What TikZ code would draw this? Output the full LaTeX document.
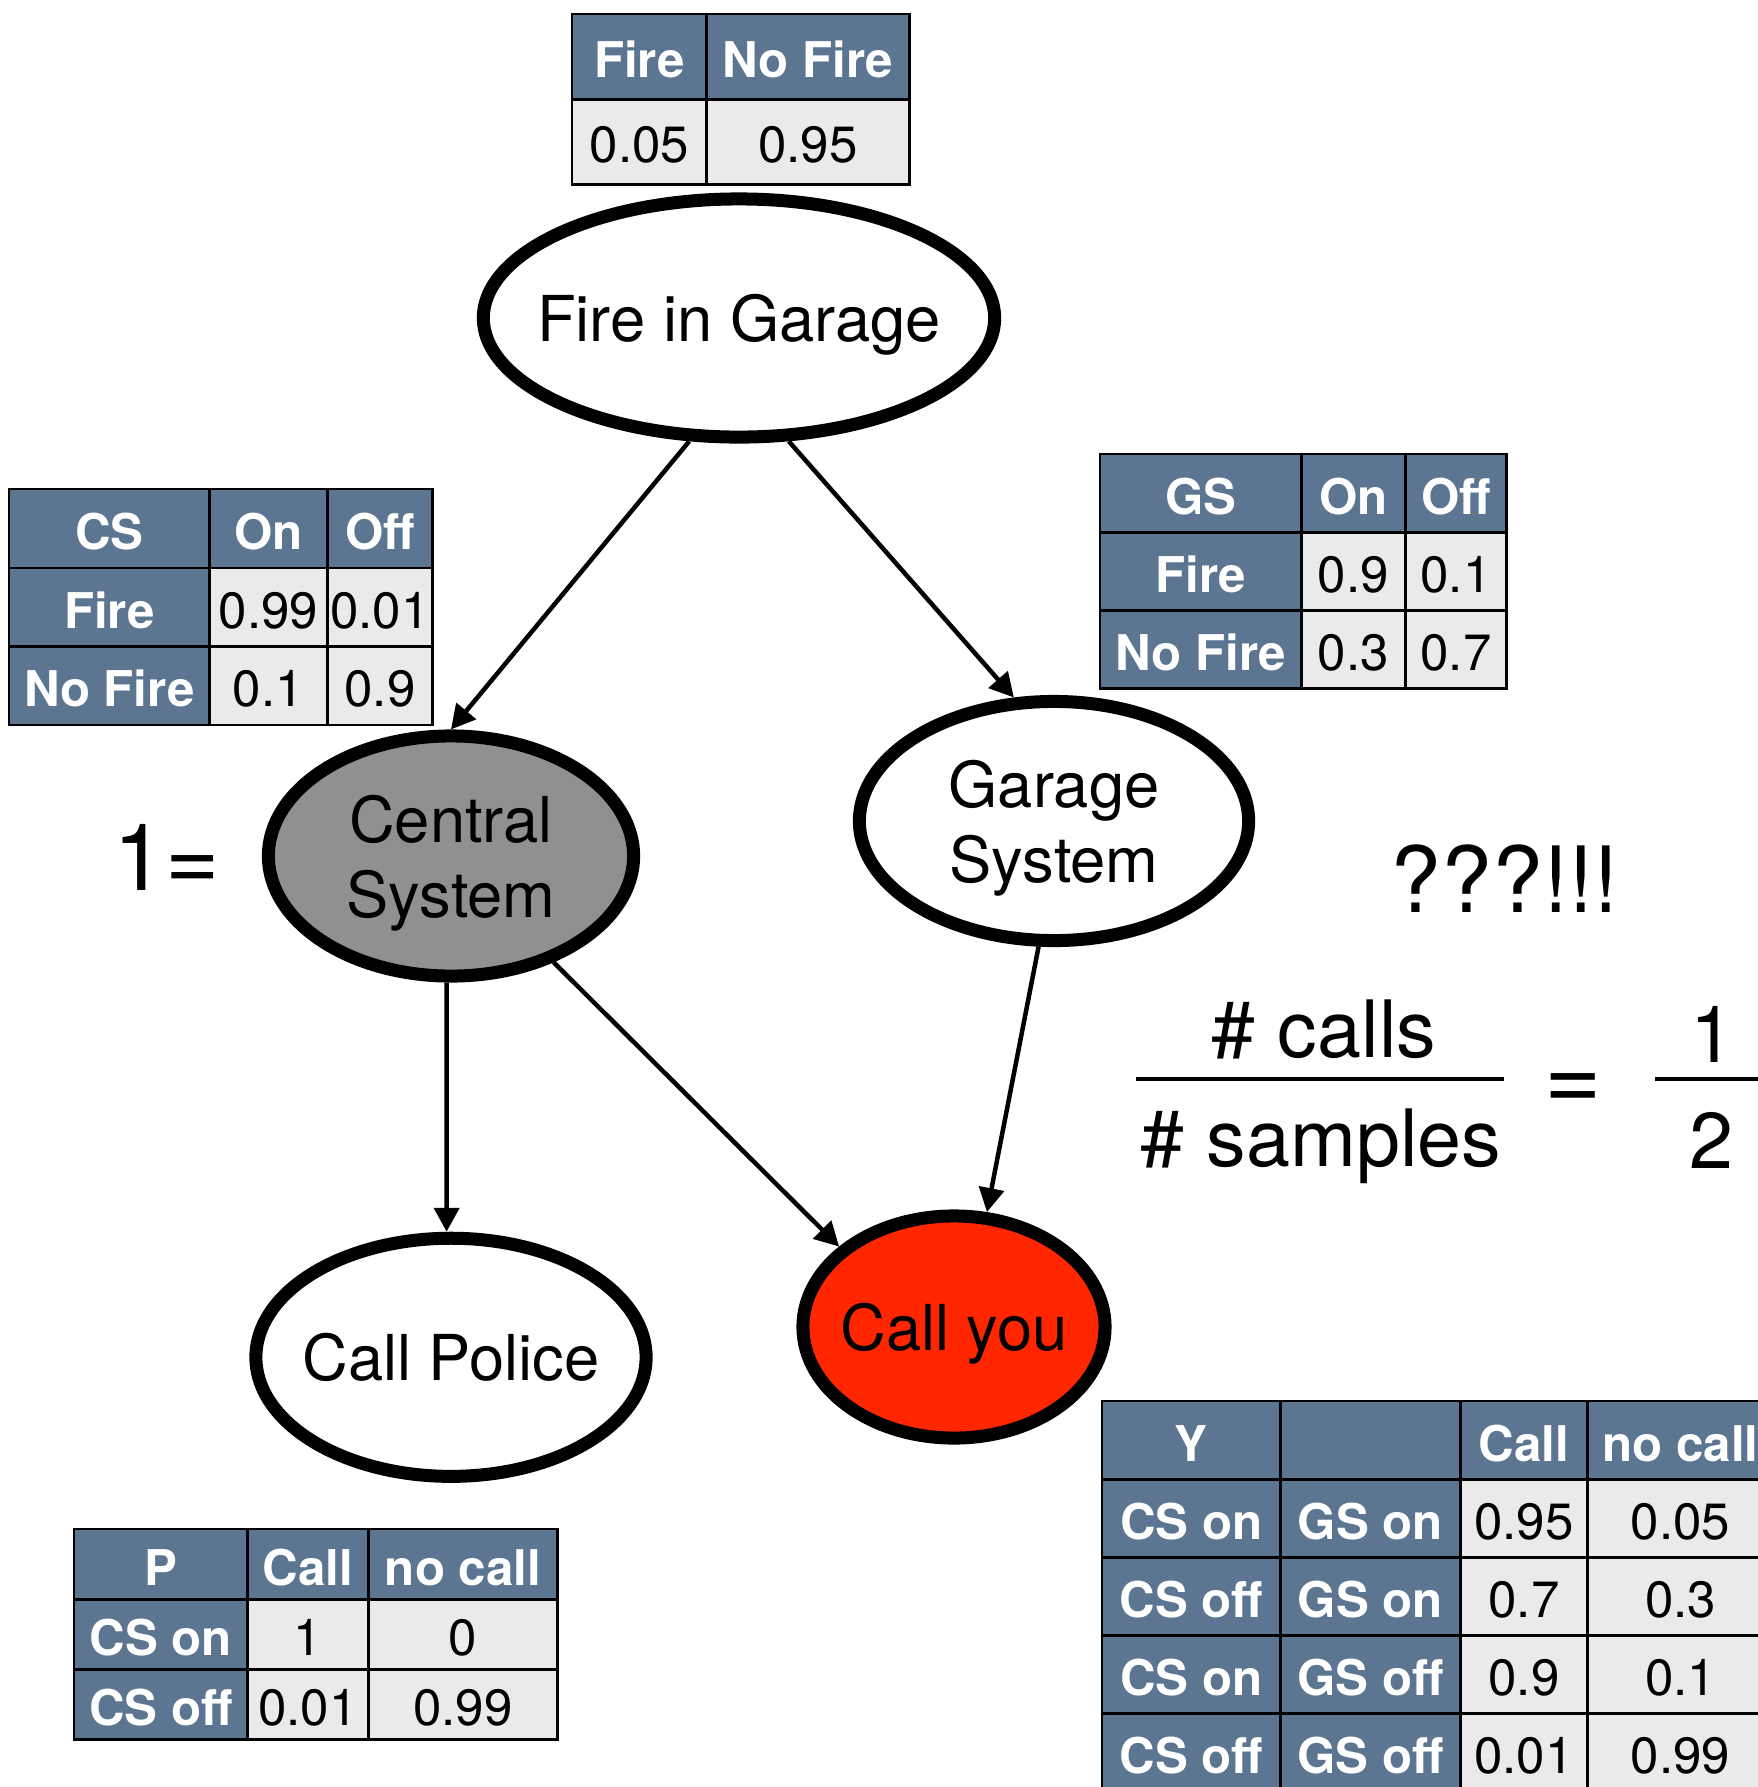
\documentclass[tikz,border=0pt]{standalone}
\usepackage{fontspec}
\setmainfont{TeX Gyre Heros}
\usepackage{tikz}
\usetikzlibrary{arrows.meta, positioning, shapes.geometric, matrix}
\definecolor{hdrblue}{RGB}{92,118,145}
\definecolor{cellgray}{RGB}{234,234,234}
\definecolor{csgray}{RGB}{144,144,144}
\definecolor{callred}{RGB}{255,38,0}

\begin{document}
\begin{tikzpicture}[x=0.01cm,y=-0.01cm,>={Triangle[length=0.24cm,width=0.25cm]}]
 \tikzstyle{bnode}=[ellipse,draw=black,line width=0.13cm,fill=white,inner sep=0pt]
 \tikzstyle{btext}=[font=\fontsize{18}{21.3}\selectfont,align=center,text depth=0pt]
 \tikzstyle{link}=[->,line width=0.045cm]
 \tikzstyle{hcell}=[fill=hdrblue,text=white,font=\bfseries\fontsize{14}{16}\selectfont]
 \tikzstyle{vcell}=[draw=black,line width=0.7pt,fill=cellgray,text=black,
   font=\fontsize{14.5}{17}\selectfont,inner sep=0pt,anchor=center,
   text height=1.2em,text depth=0pt]
 \tikzstyle{tbl}=[matrix of nodes,nodes in empty cells,inner sep=0pt,outer sep=0pt,
   column sep=-0.7pt,row sep=-0.7pt,nodes={vcell},anchor=north west]
 \tikzstyle{bigtext}=[font=\fontsize{22.5}{26}\selectfont,anchor=base]
 \useasboundingbox (0,0) rectangle (1758,1787);
 \clip (0,0) rectangle (1758,1787);

 \node (fg) [bnode,minimum width=5.11cm,minimum height=2.38cm] at (739,318) {};
 \node (cs) [bnode,fill=csgray,minimum width=3.65cm,minimum height=2.40cm] at (451,856) {};
 \node (gsy) [bnode,minimum width=3.89cm,minimum height=2.39cm] at (1054,821) {};
 \node (cp) [bnode,minimum width=3.90cm,minimum height=2.38cm,below=2.49cm of cs] {};
 \node (cy) [bnode,fill=callred,minimum width=3.02cm,minimum height=2.22cm] at (954,1327) {};
 \node (fgt) [btext] at (fg) {Fire in Garage};
 \node (cst) [btext] at (cs) {Central\\System};
 \node (gsyt) [btext] at (gsy) {Garage\\System};
 \node (cpt) [btext] at (cp) {Call Police};
 \node (cyt) [btext] at (cy) {Call you};

 \draw[link] (fg.248) -- (cs.north);
 \draw[link] (fg.292) -- (gsy.108);
 \draw[link] (cs.268) -- (cp.92);
 \draw[link] (cs.314) -- (cy.145);
 \draw[link] (gsy.263) -- (cy.74);

 \matrix (fptab) [tbl,nodes={minimum height=0.85cm},
   column 1/.style={nodes={minimum width=1.34cm}},
   column 2/.style={nodes={minimum width=2.03cm}},
   row 1/.style={nodes={hcell}}] at (571,13) {
   Fire & No Fire \\
   0.05 & 0.95 \\
 };
 \matrix (cstab) [tbl,nodes={minimum height=0.785cm},
   column 1/.style={nodes={hcell,minimum width=2.00cm}},
   column 2/.style={nodes={minimum width=1.18cm}},
   column 3/.style={nodes={minimum width=1.05cm}},
   row 1/.style={nodes={hcell}}] at (8,488) {
   CS & On & Off \\
   Fire & 0.99 & 0.01 \\
   No Fire & 0.1 & 0.9 \\
 };
 \matrix (gstab) [tbl,nodes={minimum height=0.78cm},
   column 1/.style={nodes={hcell,minimum width=2.01cm}},
   column 2/.style={nodes={minimum width=1.04cm}},
   column 3/.style={nodes={minimum width=1.01cm}},
   row 1/.style={nodes={hcell}}] at (1099,453) {
   GS & On & Off \\
   Fire & 0.9 & 0.1 \\
   No Fire & 0.3 & 0.7 \\
 };
 \matrix (ptab) [tbl,nodes={minimum height=0.70cm},
   column 1/.style={nodes={hcell,minimum width=1.73cm}},
   column 2/.style={nodes={minimum width=1.21cm}},
   column 3/.style={nodes={minimum width=1.89cm}},
   row 1/.style={nodes={hcell}}] at (73,1528) {
   P & Call & no call \\
   CS on & 1 & 0 \\
   CS off & 0.01 & 0.99 \\
 };
 \matrix (ytab) [tbl,nodes={minimum height=0.78cm},
   column 1/.style={nodes={hcell,minimum width=1.78cm}},
   column 2/.style={nodes={hcell,minimum width=1.80cm}},
   column 3/.style={nodes={minimum width=1.27cm}},
   column 4/.style={nodes={minimum width=1.86cm}},
   row 1/.style={nodes={hcell}}] at (1101,1400) {
   Y & & Call & no call \\
   CS on & GS on & 0.95 & 0.05 \\
   CS off & GS on & 0.7 & 0.3 \\
   CS on & GS off & 0.9 & 0.1 \\
   CS off & GS off & 0.01 & 0.99 \\
 };

 \node (one) [font=\fontsize{26.5}{30}\selectfont,anchor=base] at (167,890) {1=};
 \node (wow) [font=\fontsize{26}{30}\selectfont,anchor=base] at (1505,912) {???!!!};
 \node (calls) [bigtext] at (1324,1057) {\# calls};
 \node (samples) [bigtext] at (1321,1166) {\# samples};
 \node (eq) [bigtext,font=\fontsize{28}{30}\selectfont] at (1573,1110) {=};
 \node (num) [bigtext] at (1712,1062) {1};
 \node (den) [bigtext] at (1711,1168) {2};
 \draw[line width=0.04cm] (1136,1079) -- (1504,1079);
 \draw[line width=0.04cm] (1655,1079) -- (1770,1079);
\end{tikzpicture}
\end{document}
